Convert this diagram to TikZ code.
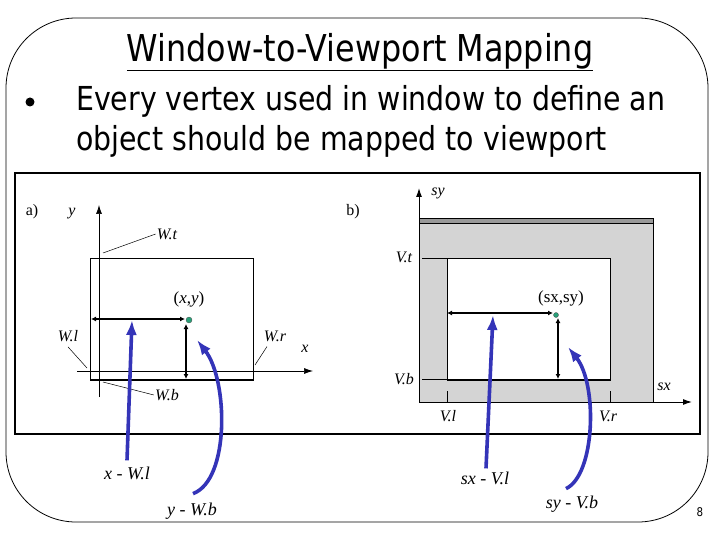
\documentclass[tikz,border=0pt]{standalone}
\usepackage{fontspec}
\setmainfont{Liberation Serif}
\newfontfamily\tah[FakeStretch=0.86]{DejaVu Sans}
\usetikzlibrary{arrows.meta}
\definecolor{bluearr}{RGB}{52,52,184}
\definecolor{dotgreen}{RGB}{40,160,120}
\tikzset{
  lbl/.style={font=\itshape\fontsize{16}{18}\selectfont, inner sep=1pt},
  biglbl/.style={font=\itshape\fontsize{18}{20}\selectfont, inner sep=1pt},
  axis/.style={line width=0.7pt, -{Latex[length=9pt,width=6pt]}},
  dbl/.style={line width=1.4pt, {Latex[length=5pt,width=5pt]}-{Latex[length=5pt,width=5pt]}},
  bluearrow/.style={line width=3.6pt, bluearr, -{Latex[length=15pt,width=11pt]}},
  leader/.style={line width=0.5pt},
  gdot/.style={circle, fill=dotgreen, draw=black!70, line width=0.3pt, inner sep=0pt, minimum size=6pt}
}
\begin{document}
\begin{tikzpicture}[x=1pt,y=-1pt]
\useasboundingbox (0,0) rectangle (720,540);
\fill[white] (0,0) rectangle (720,540);
% slide frame
\draw[line width=0.8pt, rounded corners=70pt] (6,18) rectangle (708,522);
% title and bullet
\node[font=\tah\fontsize{37}{42}\selectfont, inner sep=0pt] (title) at (360,52) {\underline{Window-to-Viewport Mapping}};
\node[circle, fill=black, inner sep=0pt, minimum size=9pt] (bul) at (30,102) {};
\node[font=\tah\fontsize{33}{40}\selectfont, anchor=west, inner sep=0pt] (l1) at (76,101) {Every vertex used in window to define an};
\node[font=\tah\fontsize{33}{40}\selectfont, anchor=west, inner sep=0pt] (l2) at (76,141) {object should be mapped to viewport};
% picture frame
\draw[line width=1.2pt] (15,173) rectangle (700,434);
% ---------- a) ----------
\node[font=\fontsize{16}{18}\selectfont] (a) at (32,212) {a)};
\coordinate (ya0) at (99,397); \coordinate (ya1) at (99,205);
\coordinate (xa0) at (77,371); \coordinate (xa1) at (313,371);
\draw[axis] (ya0) -- (ya1);
\draw[axis] (xa0) -- (xa1);
\node[lbl] (ylab) at (72,214) {y};
\node[lbl] (xlab) at (305,349) {x};
\draw[line width=0.6pt] (90,258) rectangle (253,380);
\draw[line width=1.8pt] (90,380) -- (253,380);
\node[lbl] (wt) at (167,234) {W.t};
\node[lbl] (wl) at (68,336) {W.l};
\node[lbl] (wr) at (275,336) {W.r};
\node[lbl] (wb) at (167,395) {W.b};
\coordinate (wtp) at (103,253); \draw[leader] (wtp) -- (wt.west);
\coordinate (wlp) at (87,368); \draw[leader] (wl.south) ++(0,4) -- (wlp);
\coordinate (wrp) at (255,365); \draw[leader] (wr.south) ++(-8,4) -- (wrp);
\coordinate (wbp) at (103,382); \draw[leader] (wbp) -- (wb.west);
\node[font=\fontsize{17}{19}\selectfont, inner sep=1pt] (xy) at (189,299) {(\textit{x},\textit{y})};
\node[gdot] (p) at (189,320) {};
\coordinate (hl) at (91,319);
\coordinate (hr) at (185,319);
\coordinate (vt1) at (186,324);
\coordinate (vb) at (186,379);
\draw[dbl] (hl) -- (hr);
\draw[dbl] (vt1) -- (vb);
% blue arrows a
\node[biglbl] (xwl) at (127,473) {x - W.l};
\node[biglbl] (ywb) at (192,511) {y - W.b};
\coordinate (t1) at (132,320);
\coordinate (t2) at (197,340);
\draw[bluearrow] (xwl.north) ++(0,-5) -- (t1);
\draw[bluearrow] (ywb.north) ++(1,-8) .. controls (230,480) and (228,380) .. (t2);
% ---------- b) ----------
\node[font=\fontsize{16}{18}\selectfont] (b) at (353,212) {b)};
\fill[black!17] (419,218) rectangle (653,402);
\fill[black!40] (419,218) rectangle (653,223);
\draw[line width=0.6pt] (419,223) -- (653,223);
\draw[line width=0.4pt] (419,218) -- (653,218) -- (653,402);
\fill[white] (447,258) rectangle (610,380);
\draw[line width=0.6pt] (447,258) rectangle (610,380);
\draw[line width=1.8pt] (447,380) -- (610,380);
\coordinate (sy0) at (419,402); \coordinate (sy1) at (419,188);
\coordinate (sx0) at (419,402); \coordinate (sx1) at (692,402);
\draw[axis, line width=1pt] (sy0) -- (sy1);
\draw[axis, line width=1pt] (sx0) -- (sx1);
\node[lbl] (sylab) at (438,193) {sy};
\node[lbl] (sxlab) at (664,387) {sx};
\draw[line width=0.6pt] (422,258) -- (447,258);
\draw[line width=0.6pt] (422,379) -- (447,379);
\draw[line width=0.6pt] (447,391) -- (447,402);
\draw[line width=0.6pt] (610,391) -- (610,402);
\node[lbl] (vt) at (404,257) {V.t};
\node[lbl] (vbl) at (404,379) {V.b};
\node[lbl] (vl) at (448,416) {V.l};
\node[lbl] (vr) at (608,416) {V.r};
\node[font=\fontsize{17}{19}\selectfont, inner sep=1pt] (sxy) at (561,298) {(sx,sy)};
\node[gdot, minimum size=5pt] (q) at (556,315) {};
\coordinate (hl2) at (447,313);
\coordinate (hr2) at (553,313);
\coordinate (vt2) at (558,318);
\coordinate (vb2) at (558,379);
\draw[dbl] (hl2) -- (hr2);
\draw[dbl] (vt2) -- (vb2);
\node[biglbl] (sxvl) at (485,478) {sx - V.l};
\node[biglbl] (syvb) at (572,504) {sy - V.b};
\coordinate (t3) at (493,315);
\coordinate (t4) at (568,347);
\draw[bluearrow] (sxvl.north) ++(1,-2) -- (t3);
\draw[bluearrow] (syvb.north) ++(-6,-6) .. controls (595,475) and (598,385) .. (t4);
% page number
\node[font=\tah\fontsize{12}{14}\selectfont] (pg) at (700,512) {8};
\end{tikzpicture}
\end{document}
